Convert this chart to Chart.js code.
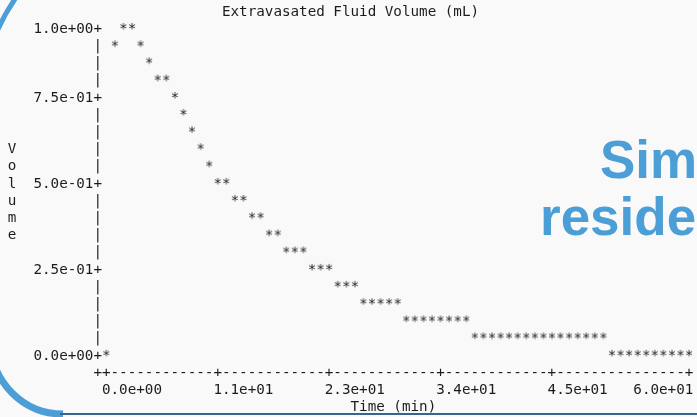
<!DOCTYPE html>
<html>
<head>
<meta charset="utf-8">
<script src="https://cdn.jsdelivr.net/npm/chart.js@4.4.0/dist/chart.umd.min.js"></script>
<style>
html, body { margin: 0; padding: 0; background: #f9f9f9; overflow: hidden; }
#wrap { position: relative; width: 697px; height: 417px; overflow: hidden; }
#plot { position: absolute; left: 0; top: 0; }
.side { position: absolute; font-family: "Liberation Sans", Arial, sans-serif; font-weight: bold;
        font-size: 53px; line-height: 1; color: #4b9ed6; white-space: nowrap; }
</style>
</head>
<body>
<div id="wrap">
  <canvas id="plot" width="697" height="417"></canvas>
  <div class="side" style="left:600px; top:133px;">Sim</div>
  <div class="side" style="left:540px; top:190px;">reside</div>
</div>
<script>
// ==========================================
// DATA (one sample per text column of the plot)
// ==========================================
const times = [
    0, 0.88, 1.76, 2.65, 3.53, 4.41, 5.29, 6.18, 7.06, 7.94,
    8.82, 9.71, 10.59, 11.47, 12.35, 13.24, 14.12, 15.00, 15.88, 16.76,
    17.65, 18.53, 19.41, 20.29, 21.18, 22.06, 22.94, 23.82, 24.71, 25.59,
    26.47, 27.35, 28.24, 29.12, 30.00, 30.88, 31.76, 32.65, 33.53, 34.41,
    35.29, 36.18, 37.06, 37.94, 38.82, 39.71, 40.59, 41.47, 42.35, 43.24,
    44.12, 45.00, 45.88, 46.76, 47.65, 48.53, 49.41, 50.29, 51.18, 52.06,
    52.94, 53.82, 54.71, 55.59, 56.47, 57.35, 58.24, 59.12, 60.00
];
const volumes = [
    0, 0.947, 1, 1, 0.947, 0.895, 0.842, 0.842, 0.789, 0.737,
    0.684, 0.632, 0.579, 0.526, 0.526, 0.474, 0.474, 0.421, 0.421, 0.368,
    0.368, 0.316, 0.316, 0.316, 0.263, 0.263, 0.263, 0.211, 0.211, 0.211,
    0.158, 0.158, 0.158, 0.158, 0.158, 0.105, 0.105, 0.105, 0.105, 0.105,
    0.105, 0.105, 0.105, 0.053, 0.053, 0.053, 0.053, 0.053, 0.053, 0.053,
    0.053, 0.053, 0.053, 0.053, 0.053, 0.053, 0.053, 0.053, 0.053, 0,
    0, 0, 0, 0, 0, 0, 0, 0, 0
];
const xTickValues = [0, 11.47, 22.94, 34.41, 45.88, 60];
const xTickLabels = ['0.0e+00', '1.1e+01', '2.3e+01', '3.4e+01', '4.5e+01', '6.0e+01'];
const yTickValues = [1, 0.789, 0.526, 0.263, 0];
const yTickLabels = ['1.0e+00', '7.5e-01', '5.0e-01', '2.5e-01', '0.0e+00'];
const titleText = 'Extravasated Fluid Volume (mL)';
const xTitle = 'Time (min)';
const yTitle = 'Volume';

const INK = '#1c1c1c';
const FONT = '14.25px "DejaVu Sans Mono", monospace';
const CHAR_W = 8.57;
const ROWS = 19;        // text rows between top and bottom y tick
const Y_LABEL_COL = -10;

// '*' sprite used as point style
function starSprite() {
    const c = document.createElement('canvas');
    c.width = 10; c.height = 18;
    const g = c.getContext('2d');
    g.font = FONT;
    g.fillStyle = INK;
    g.textAlign = 'center';
    g.textBaseline = 'middle';
    g.fillText('*', 5, 9);
    return c;
}

// ==========================================
// PLUGINS
// ==========================================
const slideFrame = {
    id: 'slideFrame',
    beforeDraw(chart) {
        const ctx = chart.ctx;
        ctx.save();
        ctx.strokeStyle = '#4b9ed6';
        ctx.lineWidth = 5;
        ctx.beginPath(); ctx.arc(180, 112, 200, Math.PI, 1.5 * Math.PI); ctx.stroke();
        ctx.lineWidth = 7;
        ctx.beginPath(); ctx.arc(63, 342, 72, 0.5 * Math.PI, Math.PI); ctx.stroke();
        ctx.strokeStyle = '#36658f';
        ctx.lineWidth = 2;
        ctx.beginPath(); ctx.moveTo(60, 414); ctx.lineTo(697, 414); ctx.stroke();
        ctx.restore();
    }
};

const asciiAxes = {
    id: 'asciiAxes',
    afterDatasetsDraw(chart) {
        const { ctx, scales: { x, y } } = chart;
        const x0 = x.getPixelForValue(0) - CHAR_W;      // column of the '|' axis
        const yTop = y.getPixelForValue(1);
        const rowH = (y.getPixelForValue(0) - yTop) / ROWS;
        const colOf = v => Math.round((x.getPixelForValue(v) - x0) / CHAR_W);
        const rowOf = v => Math.round((y.getPixelForValue(v) - yTop) / rowH);
        const lastCol = colOf(x.max);
        const put = (s, c, r) => {
            for (let i = 0; i < s.length; i++)
                ctx.fillText(s[i], x0 + (c + i) * CHAR_W, yTop + r * rowH);
        };

        ctx.save();
        ctx.font = FONT;
        ctx.fillStyle = INK;
        ctx.textAlign = 'center';
        ctx.textBaseline = 'middle';

        // y axis
        const yRows = yTickValues.map(rowOf);
        for (let r = 0; r <= ROWS; r++) {
            const k = yRows.indexOf(r);
            if (k >= 0) put(yTickLabels[k] + '+', -yTickLabels[k].length, r);
            else put('|', 0, r);
        }

        // x axis
        const xCols = xTickValues.map(colOf);
        let line = '+';
        for (let c = 1; c <= lastCol; c++) line += xCols.includes(c) ? '+' : '-';
        put(line, 0, ROWS + 1);
        xTickLabels.forEach((s, i) => put(s, Math.min(xCols[i], lastCol - s.length + 1), ROWS + 2));

        // titles
        put(xTitle, Math.round(lastCol / 2 - (xTitle.length - 1) / 2), ROWS + 3);
        put(titleText, Math.round((Y_LABEL_COL + lastCol) / 2 - (titleText.length - 1) / 2), -1);
        const r0 = Math.round(ROWS / 2 - (yTitle.length - 1) / 2);
        for (let i = 0; i < yTitle.length; i++) put(yTitle[i], Y_LABEL_COL, r0 + i);

        ctx.restore();
    }
};

// ==========================================
// CHART
// ==========================================
const ctx = document.getElementById('plot').getContext('2d');
new Chart(ctx, {
    type: 'scatter',
    data: {
        datasets: [{
            data: times.map((t, i) => ({ x: t, y: volumes[i] })),
            pointStyle: starSprite(),
            pointRadius: 5,
            clip: false
        }]
    },
    options: {
        responsive: false,
        animation: false,
        devicePixelRatio: 1,
        events: [],
        layout: { padding: { left: 106.27, right: 7.97, top: 29, bottom: 61.2 } },
        scales: {
            x: { type: 'linear', min: 0, max: 60, display: false },
            y: { type: 'linear', min: 0, max: 1, display: false }
        },
        plugins: { legend: { display: false }, tooltip: { enabled: false } }
    },
    plugins: [slideFrame, asciiAxes]
});
</script>
</body>
</html>
